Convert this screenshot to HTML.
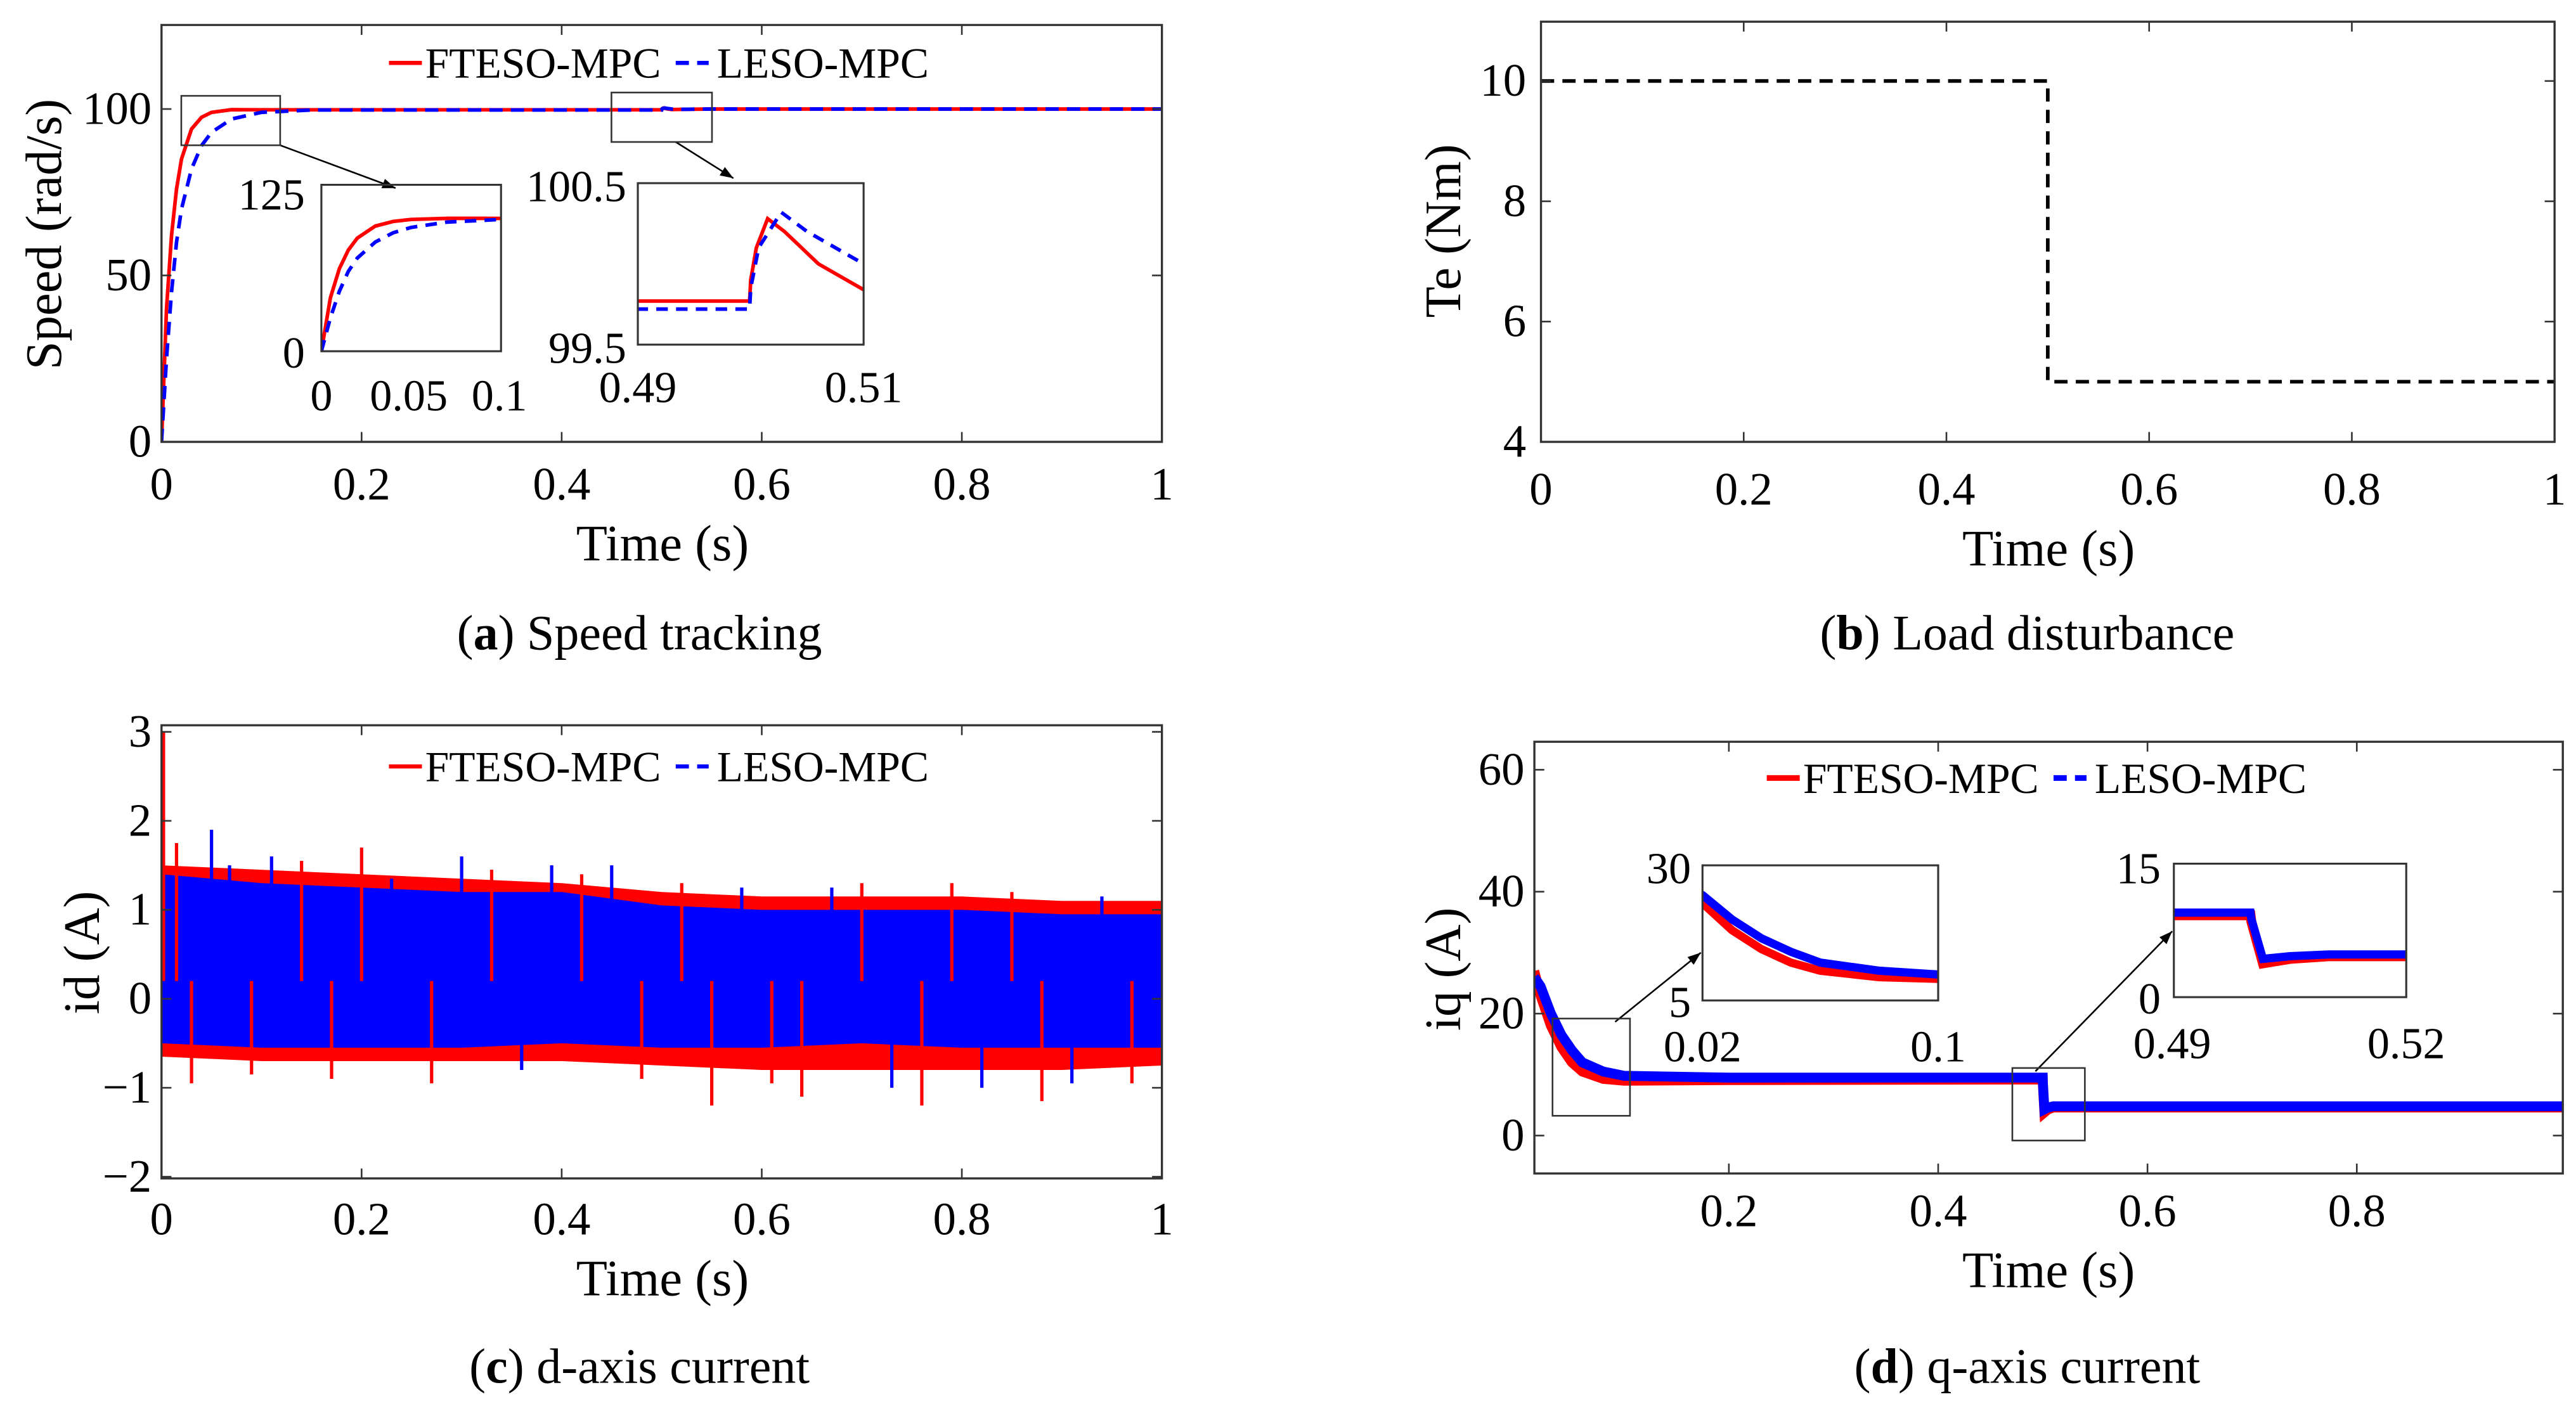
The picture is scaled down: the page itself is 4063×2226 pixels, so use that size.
<!DOCTYPE html>
<html><head><meta charset="utf-8"><style>
html,body{margin:0;padding:0;background:#fff;overflow:hidden;width:4063px;height:2226px;}
svg{display:block;}
svg text{font-family:"Liberation Serif","DejaVu Serif",serif;}
</style></head><body>
<svg id="fig" width="4063" height="2226" viewBox="0 0 1563 856" xmlns="http://www.w3.org/2000/svg" font-family="Liberation Serif, serif"></svg>
<script>
// ---------- data ----------
const speedT = [0,0.005,0.01,0.015,0.02,0.03,0.04,0.05,0.07,0.1,0.15,0.4999,0.5,0.5005,0.5015,0.503,0.506,0.51,0.52,0.55,1];
const speedF = [0,40,62,76,85,94,97.5,99,99.8,99.77,99.77,99.77,99.9,100.1,100.28,100.2,100.0,99.84,99.9,100,100];
const speedLT = [0,0.005,0.01,0.015,0.02,0.03,0.04,0.05,0.07,0.1,0.15,0.4999,0.5,0.5007,0.5027,0.505,0.508,0.51,0.52,0.55,1];
const speedL = [0,25,45,60,70,82,89,93,97,99,99.72,99.72,99.85,100.1,100.32,100.2,100.08,100.0,99.9,100,100];
const speedXTicks = [0,0.2,0.4,0.6,0.8,1];
const speedYTicks = [0,50,100];
const teT = [0,0.5,0.5,1];
const teV = [10,10,5,5];
const teXTicks = [0,0.2,0.4,0.6,0.8,1];
const teYTicks = [4,6,8,10];
const idT = [0,0.1,0.2,0.3,0.4,0.5,0.6,0.7,0.8,0.9,1];
const idBlueUp = [1.4,1.3,1.25,1.2,1.2,1.05,1.0,1.0,1.0,0.95,0.95];
const idBlueLo = [-0.5,-0.55,-0.55,-0.55,-0.5,-0.55,-0.55,-0.5,-0.55,-0.55,-0.55];
const idRedUp = [1.5,1.45,1.4,1.35,1.3,1.2,1.15,1.15,1.15,1.1,1.1];
const idRedLo = [-0.65,-0.7,-0.7,-0.7,-0.7,-0.75,-0.8,-0.8,-0.8,-0.8,-0.75];
const idSpikeT = [0.002,0.015,0.03,0.05,0.068,0.09,0.11,0.14,0.17,0.2,0.23,0.27,0.3,0.33,0.36,0.39,0.42,0.45,0.48,0.52,0.55,0.58,0.61,0.64,0.67,0.7,0.73,0.76,0.79,0.82,0.85,0.88,0.91,0.94,0.97];
const idSpikeV = [3.0,1.75,-0.95,1.9,1.5,-0.85,1.6,1.55,-0.9,1.7,1.35,-0.95,1.6,1.45,-0.8,1.5,1.4,1.5,-0.9,1.3,-1.2,1.25,-0.95,-1.1,1.25,1.3,-1.0,-1.2,1.3,-1.0,1.2,-1.15,-0.95,1.15,-0.95];
const idSpikeS = ['r','r','r','b','b','r','b','r','r','r','b','r','b','r','b','b','r','b','r','r','r','b','r','r','b','r','b','r','r','b','r','r','b','b','r'];
const idXTicks = [0,0.2,0.4,0.6,0.8,1];
const idYTicks = [-2,-1,0,1,2,3];
const iqT = [0.014,0.02,0.03,0.04,0.05,0.06,0.08,0.1,0.2,0.4999,0.5,0.5015,0.505,0.51,0.6,1];
const iqF = [27,23,18,14.5,12,10.5,9.3,9.0,9.1,9.2,8.5,3.8,4.3,4.6,4.6,4.6];
const iqL = [26,24.5,20,16.5,14,12,10.5,9.8,9.5,9.5,8.8,4.3,4.6,4.8,4.8,4.8];
const iqXTicks = [0.2,0.4,0.6,0.8];
const iqYTicks = [0,20,40,60];

// ---------- helpers ----------
const NS = 'http://www.w3.org/2000/svg';
const svg = document.getElementById('fig');
const FONT = '"Liberation Serif", serif';
function mk(tag, attrs, parent){
  const e = document.createElementNS(NS, tag);
  for (const k in attrs) e.setAttribute(k, attrs[k]);
  (parent||svg).appendChild(e);
  return e;
}
function scale(d0,d1,r0,r1){ return v => r0 + (v-d0)/(d1-d0)*(r1-r0); }
function txt(x,y,s,size,anchor,parent){
  const t = mk('text',{x:x,y:y,'font-size':size,'text-anchor':anchor||'middle',fill:'#000'},parent);
  t.style.fontFamily = FONT;
  t.textContent = s; return t;
}
function pathFrom(xs,ys,sx,sy){
  return xs.map((v,i)=>(i?'L':'M')+sx(v).toFixed(2)+','+sy(ys[i]).toFixed(2)).join('');
}
let clipId = 0;
function clip(x0,y0,x1,y1){
  const id='c'+(clipId++);
  const cp = mk('clipPath',{id:id});
  mk('rect',{x:x0,y:y0,width:x1-x0,height:y1-y0},cp);
  return 'url(#'+id+')';
}
function box(x0,y0,x1,y1,name,sw){
  const r = mk('rect',{x:x0,y:y0,width:x1-x0,height:y1-y0,fill:'none',stroke:'#333',"stroke-width":sw||1.3});
  
  
  return r;
}
function ticksX(vals,sx,y0,y1,labY,fs,g){
  vals.forEach(v=>{
    mk('line',{x1:sx(v),x2:sx(v),y1:y1,y2:y1-6,stroke:'#333','stroke-width':1},g);
    mk('line',{x1:sx(v),x2:sx(v),y1:y0,y2:y0+6,stroke:'#333','stroke-width':1},g);
    const t = txt(sx(v),labY,String(v),fs,'middle',g);
    
    
  });
}
function ticksY(vals,sy,x0,x1,labX,fs,g){
  vals.forEach(v=>{
    mk('line',{x1:x0,x2:x0+6,y1:sy(v),y2:sy(v),stroke:'#333','stroke-width':1},g);
    mk('line',{x1:x1,x2:x1-6,y1:sy(v),y2:sy(v),stroke:'#333','stroke-width':1},g);
    const t = txt(labX,sy(v)+9,String(v).replace('-','\u2212'),fs,'end',g);
    
    
  });
}
function legend(x,y,g,redW){
  mk('line',{x1:x,x2:x+20,y1:y,y2:y,stroke:'#f00','stroke-width':redW||2.5},g);
  const a = txt(x+22,y+9,'FTESO-MPC',26,'start',g);
  
  
  mk('line',{x1:x+174,x2:x+194,y1:y,y2:y,stroke:'#00f','stroke-width':redW||2.5,'stroke-dasharray':'8,5'},g);
  const b = txt(x+199,y+9,'LESO-MPC',26,'start',g);
  
  
}
function arrow(x0,y0,x1,y1,g){
  mk('line',{x1:x0,y1:y0,x2:x1,y2:y1,stroke:'#000','stroke-width':1},g);
  const ang=Math.atan2(y1-y0,x1-x0), L=8, W=3;
  const p=[[x1,y1],[x1-L*Math.cos(ang)+W*Math.sin(ang),y1-L*Math.sin(ang)-W*Math.cos(ang)],[x1-L*Math.cos(ang)-W*Math.sin(ang),y1-L*Math.sin(ang)+W*Math.cos(ang)]];
  mk('polygon',{points:p.map(q=>q.join(',')).join(' '),fill:'#000'},g);
}
function caption(x,y,letter,rest,name){
  const t = mk('text',{x:x,y:y,'font-size':30,'text-anchor':'middle',fill:'#000'});
  t.style.fontFamily = FONT;
  
  
  t.innerHTML = '(<tspan font-weight="bold">'+letter+'</tspan>) '+rest;
}
function ylabel(x,y,s,name){
  const t = mk('text',{x:0,y:0,'font-size':31,'text-anchor':'middle',fill:'#000',transform:'translate('+x+','+y+') rotate(-90)'});
  t.style.fontFamily = FONT;
  t.textContent=s;
  
  
}

// ---------- panel a ----------
(function(){
  const g = mk('g',{});
  
  
  const X0=98,X1=705,Y0=15,Y1=268;
  const sx=scale(0,1,X0,X1), sy=scale(0,100,268,66);
  const cp=clip(X0,Y0,X1,Y1);
  const r=mk('path',{d:pathFrom(speedT,speedF,sx,sy),fill:'none',stroke:'#f00','stroke-width':2.2,'clip-path':cp},g);
  
  const b=mk('path',{d:pathFrom(speedLT,speedL,sx,sy),fill:'none',stroke:'#00f','stroke-width':2.2,'stroke-dasharray':'8,5','clip-path':cp},g);
  
  box(X0,Y0,X1,Y1,'speed-plot-area');
  ticksX(speedXTicks,sx,Y0,Y1,303,28,g);
  ticksY(speedYTicks,sy,X0,X1,92,28,g);
  legend(236,38,g);
  box(110,58,170,88,'zoom-rect-startup',1);
  box(371,56,432,86,'zoom-rect-disturbance',1);
  arrow(170,88,240,114,g);
  arrow(410,86,445,108,g);
  const i1x=scale(0,0.1,195,304), i1y=scale(0,125,213,112);
  const c1=clip(195,112,304,213);
  mk('path',{d:pathFrom(speedT,speedF,i1x,i1y),fill:'none',stroke:'#f00','stroke-width':2.2,'clip-path':c1},g);
  mk('path',{d:pathFrom(speedLT,speedL,i1x,i1y),fill:'none',stroke:'#00f','stroke-width':2.2,'stroke-dasharray':'7,5','clip-path':c1},g);
  box(195,112,304,213,'inset-startup',1.2);
  txt(185,127,'125',27,'end',g); txt(185,223,'0',27,'end',g);
  txt(195,249,'0',27,'middle',g); txt(248,249,'0.05',27,'middle',g); txt(303,249,'0.1',27,'middle',g);
  const i2x=scale(0.49,0.51,387,524), i2y=scale(99.5,100.5,209,111);
  const c2=clip(387,111,524,209);
  mk('path',{d:pathFrom(speedT,speedF,i2x,i2y),fill:'none',stroke:'#f00','stroke-width':2.2,'clip-path':c2},g);
  mk('path',{d:pathFrom(speedLT,speedL,i2x,i2y),fill:'none',stroke:'#00f','stroke-width':2.2,'stroke-dasharray':'7,5','clip-path':c2},g);
  box(387,111,524,209,'inset-disturbance',1.2);
  txt(380,122,'100.5',27,'end',g); txt(380,220,'99.5',27,'end',g);
  txt(387,244,'0.49',27,'middle',g); txt(524,244,'0.51',27,'middle',g);
  const xl=txt(402,340,'Time (s)',31,'middle',g);
  
  ylabel(37,142,'Speed (rad/s)','y-axis-title');
  caption(388,394,'a','Speed tracking','caption-a');
})();

// ---------- panel b ----------
(function(){
  const g = mk('g',{});
  
  
  const X0=935,X1=1550,Y0=13,Y1=268;
  const sx=scale(0,1,X0,X1), sy=scale(4,10,268,49);
  const l=mk('path',{d:pathFrom(teT,teV,sx,sy),fill:'none',stroke:'#000','stroke-width':2.2,'stroke-dasharray':'8,5'},g);
  
  box(X0,Y0,X1,Y1,'te-plot-area');
  ticksX(teXTicks,sx,Y0,Y1,306,28,g);
  ticksY(teYTicks,sy,X0,X1,926,28,g);
  const xl=txt(1243,343,'Time (s)',31,'middle',g);
  
  ylabel(886,140,'Te (Nm)','y-axis-title');
  caption(1230,394,'b','Load disturbance','caption-b');
})();

// ---------- panel c ----------
(function(){
  const g = mk('g',{});
  
  
  const X0=98,X1=705,Y0=440,Y1=715;
  const sx=scale(0,1,X0,X1), sy=scale(0,1,606,552);
  const cp=clip(X0,Y0,X1,Y1);
  function band(up,lo,col,name){
    const d = pathFrom(idT,up,sx,sy)+idT.slice().reverse().map((v,i)=>'L'+sx(v)+','+sy(lo[lo.length-1-i])).join('')+'Z';
    const p=mk('path',{d:d,fill:col,'clip-path':cp},g);
    
  }
  band(idRedUp,idRedLo,'#f00','id-ftesompc-band');
  band(idBlueUp,idBlueLo,'#00f','id-lesompc-band');
  idSpikeT.forEach((t,i)=>{
    const s=mk('line',{x1:sx(t),x2:sx(t),y1:sy(0.2),y2:sy(idSpikeV[i]),stroke:idSpikeS[i]=='r'?'#f00':'#00f','stroke-width':2,'clip-path':cp},g);
    
  });
  box(X0,Y0,X1,Y1,'id-plot-area');
  ticksX(idXTicks,sx,Y0,Y1,749,28,g);
  ticksY(idYTicks,sy,X0,X1,92,28,g);
  legend(236,465,g);
  const xl=txt(402,786,'Time (s)',31,'middle',g);
  
  ylabel(60,578,'id (A)','y-axis-title');
  caption(388,839,'c','d-axis current','caption-c');
})();

// ---------- panel d ----------
(function(){
  const g = mk('g',{});
  
  
  const X0=931,X1=1555,Y0=450,Y1=712;
  const sx=scale(0.2,0.8,1049,1430), sy=scale(0,60,689,467);
  const cp=clip(X0,Y0,X1,Y1);
  const r=mk('path',{d:pathFrom(iqT,iqF,sx,sy),fill:'none',stroke:'#f00','stroke-width':6,'clip-path':cp},g);
  
  const b=mk('path',{d:pathFrom(iqT,iqL,sx,sy),fill:'none',stroke:'#00f','stroke-width':6,'clip-path':cp},g);
  
  box(X0,Y0,X1,Y1,'iq-plot-area');
  ticksX(iqXTicks,sx,Y0,Y1,744,28,g);
  ticksY(iqYTicks,sy,X0,X1,925,28,g);
  legend(1072,472,g,3.5);
  box(942,618,989,677,'zoom-rect-startup-iq',1);
  box(1221,648,1265,692,'zoom-rect-disturbance-iq',1);
  arrow(980,620,1032,578,g);
  arrow(1235,650,1318,565,g);
  const i1x=scale(0.02,0.1,1033,1176), i1y=scale(5,30,607,525);
  const c1=clip(1033,525,1176,607);
  mk('path',{d:pathFrom(iqT,iqF,i1x,i1y),fill:'none',stroke:'#f00','stroke-width':5,'clip-path':c1},g);
  mk('path',{d:pathFrom(iqT,iqL,i1x,i1y),fill:'none',stroke:'#00f','stroke-width':5,'clip-path':c1},g);
  box(1033,525,1176,607,'inset-startup-iq',1.2);
  txt(1026,536,'30',27,'end',g); txt(1026,617,'5',27,'end',g);
  txt(1033,644,'0.02',27,'middle',g); txt(1176,644,'0.1',27,'middle',g);
  const i2x=scale(0.49,0.52,1319,1460), i2y=scale(0,15,605,524);
  const c2=clip(1319,524,1460,605);
  mk('path',{d:pathFrom(iqT,iqF,i2x,i2y),fill:'none',stroke:'#f00','stroke-width':6,'clip-path':c2},g);
  mk('path',{d:pathFrom(iqT,iqL,i2x,i2y),fill:'none',stroke:'#00f','stroke-width':5,'clip-path':c2},g);
  box(1319,524,1460,605,'inset-disturbance-iq',1.2);
  txt(1311,536,'15',27,'end',g); txt(1311,615,'0',27,'end',g);
  txt(1318,642,'0.49',27,'middle',g); txt(1460,642,'0.52',27,'middle',g);
  const xl=txt(1243,781,'Time (s)',31,'middle',g);
  
  ylabel(886,588,'iq (A)','y-axis-title');
  caption(1230,839,'d','q-axis current','caption-d');
})();
</script>
</body></html>
